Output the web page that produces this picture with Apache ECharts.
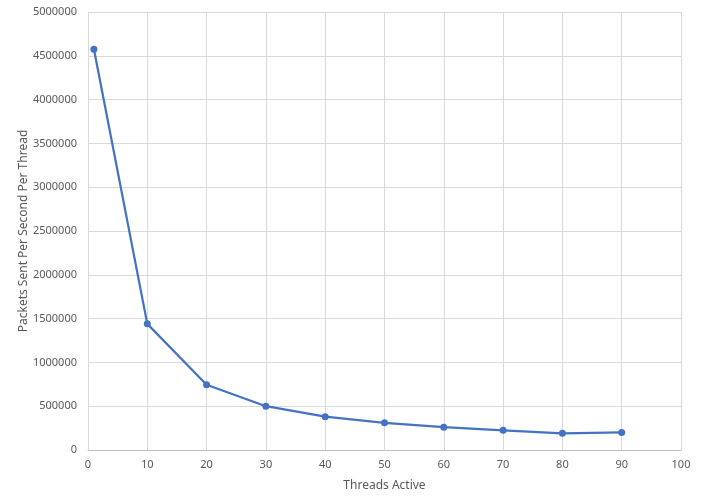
<!DOCTYPE html>
<html><head><meta charset="utf-8">
<script src="https://cdn.jsdelivr.net/npm/echarts@6/dist/echarts.min.js"></script>
<style>html,body{margin:0;padding:0;background:#fff;}#c{width:701px;height:504px;}</style>
</head><body><div id="c"></div>
<script>
const threads = [1, 10, 20, 30, 40, 50, 60, 70, 80, 90];
const packetsPerThread = [4575000, 1440000, 745000, 500000, 380000, 310000, 260000, 225000, 190000, 200000];
const xAxisTitle = 'Threads Active';
const yAxisTitle = 'Packets Sent Per Second Per Thread';

const font = '"Noto Sans", sans-serif';
const txt = '#595959';
const chart = echarts.init(document.getElementById('c'), null, {renderer: 'canvas'});
chart.setOption({
  animation: false,
  backgroundColor: '#fff',
  grid: {left: 88, right: 20, top: 12, bottom: 54, containLabel: false, outerBoundsMode: 'none'},
  xAxis: {
    type: 'value', min: 0, max: 100, interval: 10,
    name: xAxisTitle, nameLocation: 'middle', nameGap: 30, nameMoveOverlap: false,
    nameTextStyle: {color: txt, fontSize: 12, fontFamily: font},
    axisLine: {show: true, lineStyle: {color: '#bfbfbf', width: 1}},
    axisTick: {show: false},
    axisLabel: {color: txt, fontSize: 11, fontFamily: font, margin: 9, formatter: v => String(v)},
    splitLine: {show: true, lineStyle: {color: '#d9d9d9', width: 1}}
  },
  yAxis: {
    type: 'value', min: 0, max: 5000000, interval: 500000,
    name: yAxisTitle, nameLocation: 'middle', nameGap: 58, nameRotate: 90, nameMoveOverlap: false,
    nameTextStyle: {color: txt, fontSize: 12, fontFamily: font},
    axisLine: {show: false},
    axisTick: {show: false},
    axisLabel: {color: txt, fontSize: 11, fontFamily: font, margin: 11, formatter: v => String(v)},
    splitLine: {show: true, lineStyle: {color: '#d9d9d9', width: 1}}
  },
  series: [{
    type: 'line',
    data: threads.map((t, i) => [t, packetsPerThread[i]]),
    symbol: 'circle', symbolSize: 7,
    itemStyle: {color: '#4472C4'},
    lineStyle: {color: '#4472C4', width: 2.25}
  }]
});
</script></body></html>
